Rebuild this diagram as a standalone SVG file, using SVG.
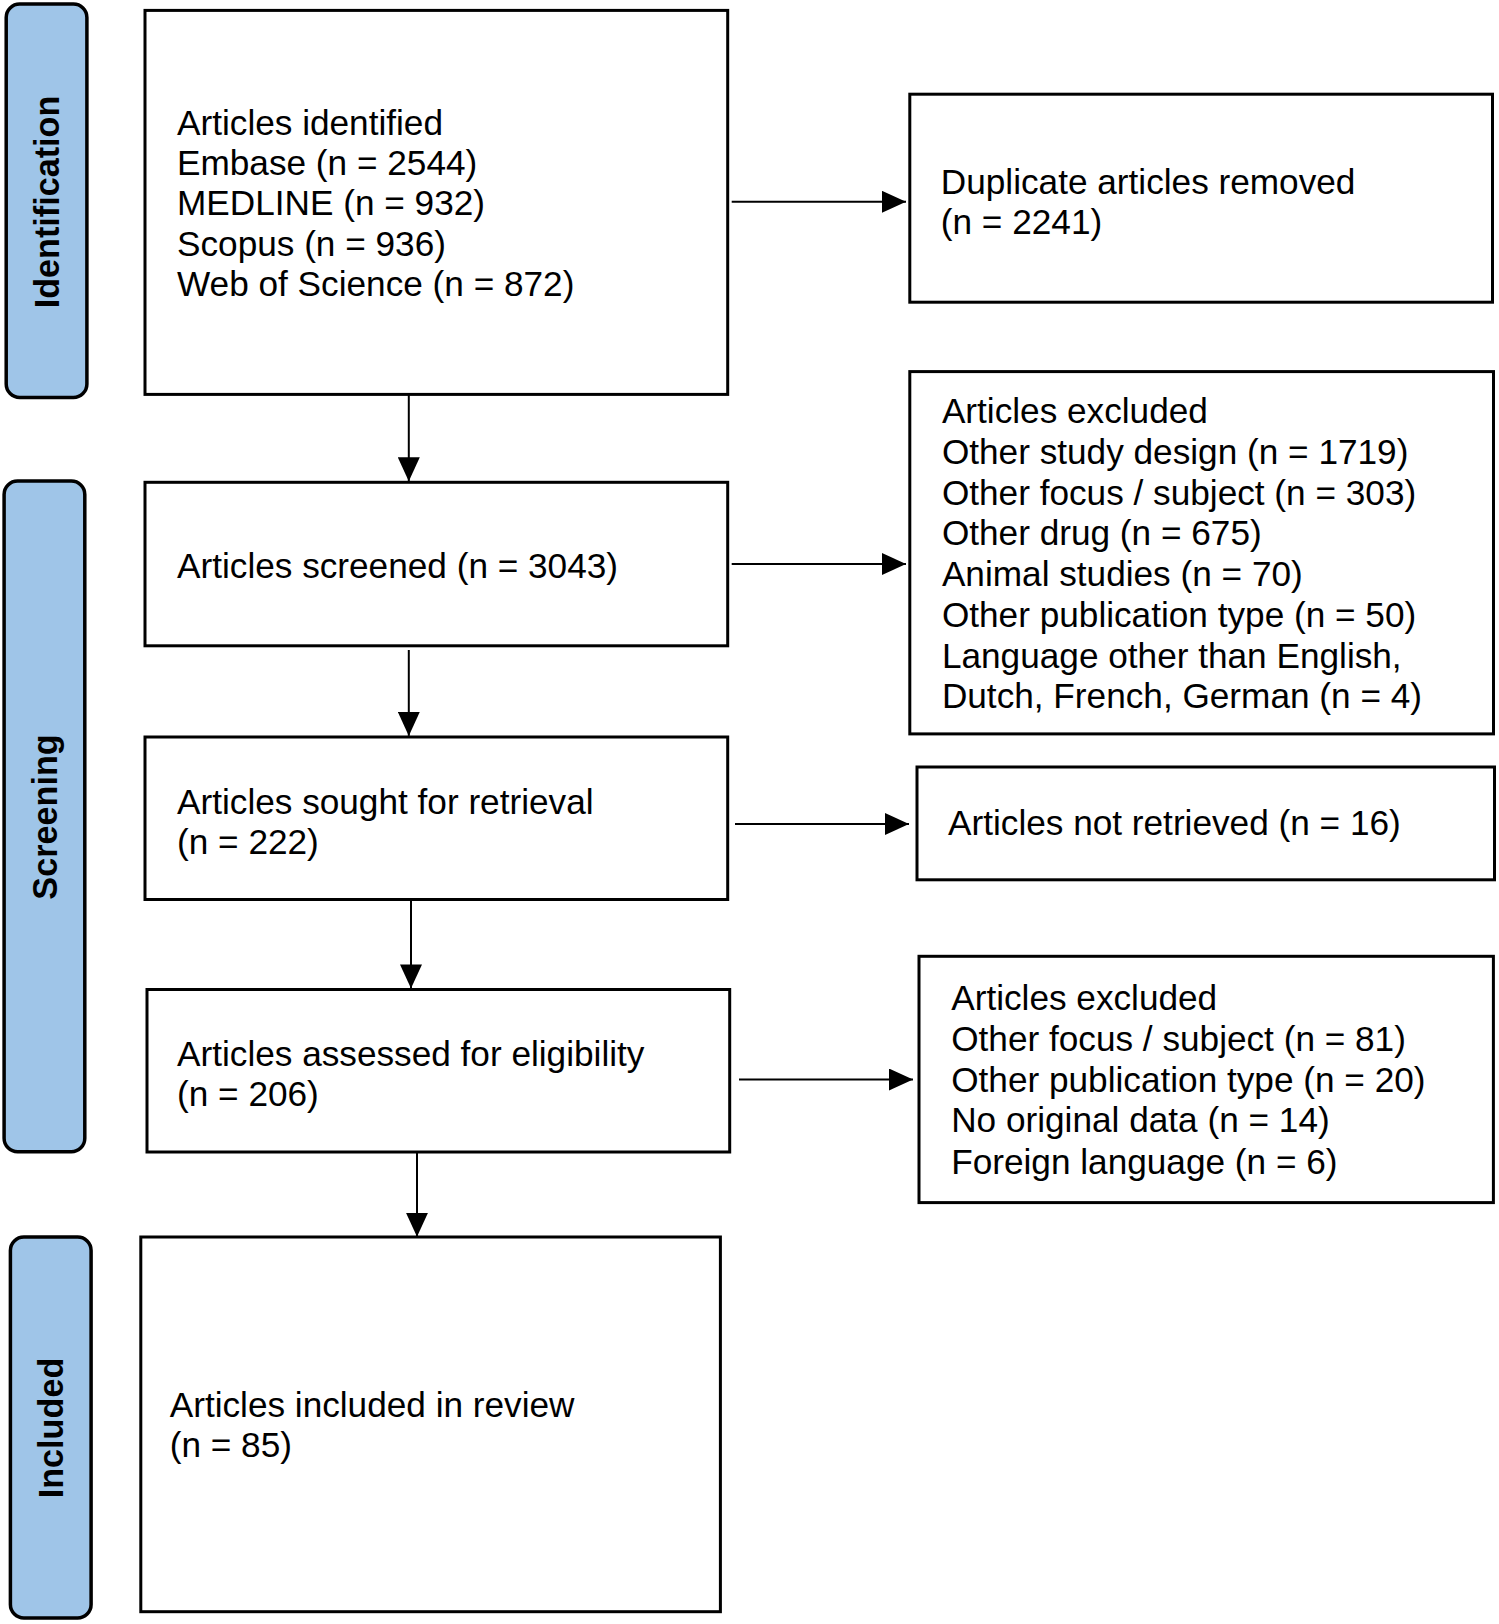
<svg xmlns="http://www.w3.org/2000/svg" width="1499" height="1624" viewBox="0 0 1499 1624">
<defs>
<style>
.box{fill:#fff;stroke:#000;stroke-width:3}
.side{fill:#9fc5e8;stroke:#000;stroke-width:3.5}
.t{font-family:"Liberation Sans",Arial,sans-serif;font-size:35.2px;fill:#000}
.st{font-family:"Liberation Sans",Arial,sans-serif;font-size:34.2px;font-weight:bold;fill:#000}
</style>
<marker id="ah" viewBox="0 0 24 22" refX="24" refY="11" markerWidth="24" markerHeight="22" markerUnits="userSpaceOnUse" orient="auto">
<path d="M0,0 L24,11 L0,22 z" fill="#000"/>
</marker>
</defs>
<rect width="1499" height="1624" fill="#fff"/>

<g id="phase-identification">
<rect class="side" x="6.2" y="4.1" width="80.7" height="393.3" rx="13.5"/>
<text class="st" transform="translate(59,202) rotate(-90)" text-anchor="middle">Identification</text>
</g>
<g id="phase-screening">
<rect class="side" x="4.1" y="481" width="80.7" height="670.7" rx="13.5"/>
<text class="st" transform="translate(57,817) rotate(-90)" text-anchor="middle">Screening</text>
</g>
<g id="phase-included">
<rect class="side" x="10.4" y="1237" width="80.7" height="381" rx="13.5"/>
<text class="st" transform="translate(63,1428) rotate(-90)" text-anchor="middle">Included</text>
</g>

<g id="identified">
<rect class="box" x="145" y="10.4" width="582.7" height="384"/>
<text class="t" x="177" y="134.6">Articles identified</text>
<text class="t" x="177" y="174.9">Embase (n = 2544)</text>
<text class="t" x="177" y="215.3">MEDLINE (n = 932)</text>
<text class="t" x="177" y="255.6">Scopus (n = 936)</text>
<text class="t" x="177" y="296">Web of Science (n = 872)</text>
</g>
<g id="duplicates">
<rect class="box" x="909.8" y="94.2" width="582.7" height="208"/>
<text class="t" x="940.8" y="193.5">Duplicate articles removed</text>
<text class="t" x="940.8" y="234">(n = 2241)</text>
</g>
<g id="screened">
<rect class="box" x="145" y="482.3" width="582.7" height="163.5"/>
<text class="t" x="177" y="577.5">Articles screened (n = 3043)</text>
</g>
<g id="excluded1">
<rect class="box" x="909.8" y="371.6" width="583.7" height="362.3"/>
<text class="t" x="941.9" y="423.3">Articles excluded</text>
<text class="t" x="941.9" y="463.7">Other study design (n = 1719)</text>
<text class="t" x="941.9" y="505">Other focus / subject (n = 303)</text>
<text class="t" x="941.9" y="545.4">Other drug (n = 675)</text>
<text class="t" x="941.9" y="585.8">Animal studies (n = 70)</text>
<text class="t" x="941.9" y="627.2">Other publication type (n = 50)</text>
<text class="t" x="941.9" y="667.6">Language other than English,</text>
<text class="t" x="941.9" y="708">Dutch, French, German (n = 4)</text>
</g>
<g id="retrieval">
<rect class="box" x="145" y="737" width="582.7" height="162.5"/>
<text class="t" x="177" y="813.5">Articles sought for retrieval</text>
<text class="t" x="177" y="854">(n = 222)</text>
</g>
<g id="notretrieved">
<rect class="box" x="917" y="767" width="577.5" height="112.8"/>
<text class="t" x="948" y="835">Articles not retrieved (n = 16)</text>
</g>
<g id="eligibility">
<rect class="box" x="147" y="989.5" width="582.7" height="162.5"/>
<text class="t" x="177" y="1066">Articles assessed for eligibility</text>
<text class="t" x="177" y="1106.4">(n = 206)</text>
</g>
<g id="excluded2">
<rect class="box" x="919" y="956.3" width="574.4" height="246.3"/>
<text class="t" x="951.2" y="1010">Articles excluded</text>
<text class="t" x="951.2" y="1050.5">Other focus / subject (n = 81)</text>
<text class="t" x="951.2" y="1092">Other publication type (n = 20)</text>
<text class="t" x="951.2" y="1132.3">No original data (n = 14)</text>
<text class="t" x="951.2" y="1173.7">Foreign language (n = 6)</text>
</g>
<g id="included">
<rect class="box" x="140.8" y="1237" width="579.6" height="374.7"/>
<text class="t" x="169.7" y="1417">Articles included in review</text>
<text class="t" x="169.7" y="1457">(n = 85)</text>
</g>

<g id="connectors" stroke="#000" stroke-width="2" fill="none">
<line x1="731.7" y1="201.8" x2="906" y2="201.8" marker-end="url(#ah)"/>
<line x1="731.7" y1="564" x2="906" y2="564" marker-end="url(#ah)"/>
<line x1="735" y1="824" x2="909" y2="824" marker-end="url(#ah)"/>
<line x1="739" y1="1079.5" x2="913" y2="1079.5" marker-end="url(#ah)"/>
<line x1="408.8" y1="394.3" x2="408.8" y2="481.3" marker-end="url(#ah)"/>
<line x1="408.8" y1="650" x2="408.8" y2="735.9" marker-end="url(#ah)"/>
<line x1="411" y1="899.4" x2="411" y2="988.4" marker-end="url(#ah)"/>
<line x1="417" y1="1152" x2="417" y2="1236.8" marker-end="url(#ah)"/>
</g>
</svg>
